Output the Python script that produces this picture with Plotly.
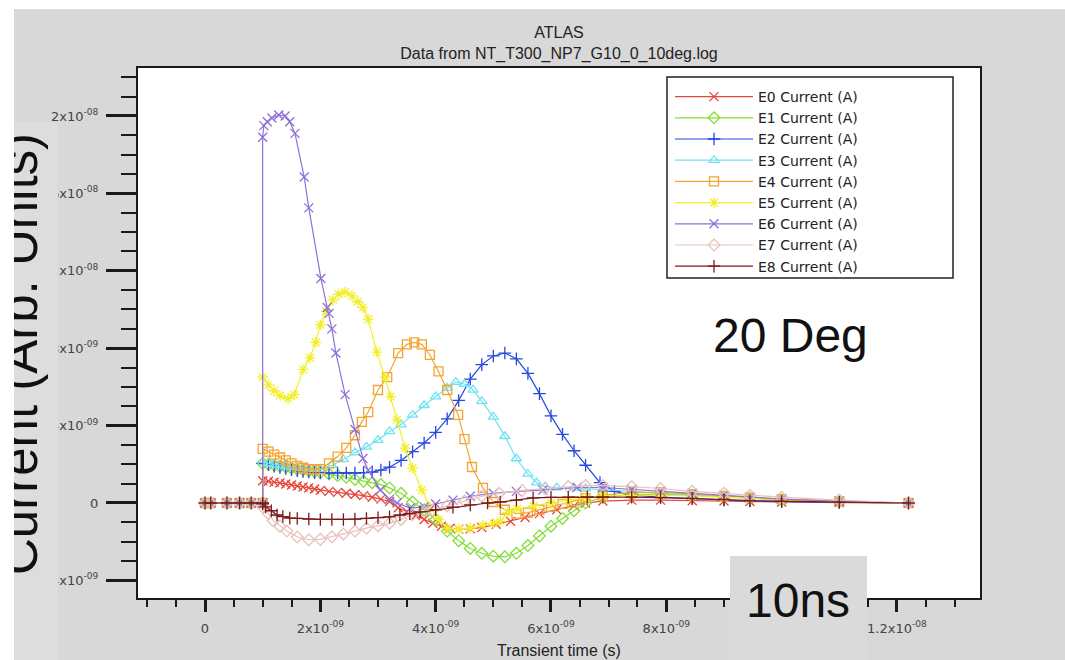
import plotly.graph_objects as go

# ---------------- data (time in ns, current in nA) ----------------
series_names = ["E0 Current (A)", "E1 Current (A)", "E2 Current (A)", "E3 Current (A)",
                "E4 Current (A)", "E5 Current (A)", "E6 Current (A)", "E7 Current (A)",
                "E8 Current (A)"]

e0_t = [0.0, 0.1, 0.38, 0.6, 0.8, 1.0,
        1.0, 1.1, 1.2, 1.3, 1.4, 1.5, 1.6, 1.7, 1.8, 1.9, 2.0, 2.15, 2.3, 2.45, 2.6, 2.75, 2.9,
        3.05, 3.2, 3.35, 3.5, 3.65, 3.8, 3.95, 4.1, 4.25, 4.4, 4.6, 4.8, 5.05, 5.3, 5.55, 5.8,
        6.1, 6.4, 6.6, 6.9, 7.4, 7.9, 8.45, 9.0, 9.45, 10.0, 11.0, 12.2]
e0_y = [0, 0, 0, 0, 0, 0,
        1.15, 1.12, 1.08, 1.03, 0.98, 0.93, 0.88, 0.83, 0.78, 0.72, 0.65, 0.6, 0.55, 0.5, 0.44,
        0.38, 0.3, 0.2, 0.08, -0.25, -0.45, -0.65, -0.85, -1.05, -1.2, -1.3, -1.35, -1.33, -1.27,
        -1.1, -0.95, -0.75, -0.55, -0.35, -0.15, 0.0, 0.1, 0.15, 0.15, 0.12, 0.1, 0.08, 0.05,
        0.02, 0.0]

e1_t = [0.0, 0.1, 0.38, 0.6, 0.8, 1.0,
        1.0, 1.1, 1.2, 1.3, 1.4, 1.5, 1.6, 1.7, 1.8, 1.9, 2.0, 2.15, 2.3, 2.45, 2.6, 2.75, 2.9,
        3.05, 3.2, 3.4, 3.6, 3.8, 4.0, 4.2, 4.4, 4.6, 4.8, 5.0, 5.2, 5.4, 5.6, 5.8, 6.0, 6.2,
        6.4, 6.6, 6.9, 7.4, 7.9, 8.45, 9.0, 9.45, 10.0, 11.0, 12.2]
e1_y = [0, 0, 0, 0, 0, 0,
        2.05, 2.0, 1.95, 1.9, 1.85, 1.8, 1.75, 1.7, 1.66, 1.62, 1.58, 1.5, 1.42, 1.33, 1.22,
        1.12, 1.05, 0.95, 0.78, 0.5, 0.05, -0.35, -0.85, -1.45, -1.95, -2.35, -2.6, -2.75,
        -2.78, -2.6, -2.2, -1.7, -1.2, -0.8, -0.4, 0.0, 0.3, 0.45, 0.45, 0.4, 0.32, 0.25, 0.15,
        0.06, 0.0]

e2_t = [0.0, 0.1, 0.38, 0.6, 0.8, 1.0,
        1.0, 1.1, 1.2, 1.3, 1.4, 1.5, 1.6, 1.7, 1.8, 1.9, 2.0, 2.15, 2.3, 2.45, 2.6, 2.75, 2.9,
        3.05, 3.2, 3.4, 3.6, 3.8, 4.0, 4.2, 4.4, 4.6, 4.8, 5.0, 5.2, 5.4, 5.6, 5.8, 6.0, 6.2,
        6.4, 6.6, 6.85, 7.1, 7.4, 7.9, 8.45, 9.0, 9.45, 10.0, 11.0, 12.2]
e2_y = [0, 0, 0, 0, 0, 0,
        2.05, 1.98, 1.9, 1.84, 1.78, 1.72, 1.67, 1.63, 1.6, 1.57, 1.55, 1.55, 1.55, 1.55, 1.55,
        1.57, 1.6, 1.7, 1.85, 2.2, 2.65, 3.1, 3.65, 4.35, 5.3, 6.4, 7.15, 7.6, 7.75, 7.45, 6.7,
        5.65, 4.5, 3.55, 2.7, 1.95, 1.05, 0.6, 0.4, 0.3, 0.22, 0.15, 0.1, 0.07, 0.03, 0.0]

e3_t = [0.0, 0.1, 0.38, 0.6, 0.8, 1.0,
        1.0, 1.1, 1.2, 1.3, 1.4, 1.5, 1.6, 1.7, 1.8, 1.9, 2.0, 2.2, 2.4, 2.6, 2.8, 3.0, 3.2,
        3.4, 3.6, 3.8, 4.0, 4.2, 4.35, 4.5, 4.65, 4.8, 5.0, 5.2, 5.4, 5.6, 5.75, 5.9, 6.1, 6.4,
        6.6, 6.9, 7.4, 7.9, 8.45, 9.0, 9.45, 10.0, 11.0, 12.2]
e3_y = [0, 0, 0, 0, 0, 0,
        2.1, 2.05, 2.0, 1.95, 1.9, 1.86, 1.82, 1.79, 1.76, 1.75, 1.75, 1.95, 2.25, 2.6, 2.9,
        3.25, 3.7, 4.05, 4.55, 5.05, 5.5, 5.95, 6.25, 6.15, 5.85, 5.25, 4.45, 3.45, 2.3, 1.5,
        1.05, 0.85, 0.8, 0.78, 0.75, 0.7, 0.6, 0.5, 0.4, 0.32, 0.25, 0.17, 0.08, 0.0]

e4_t = [0.0, 0.1, 0.38, 0.6, 0.8, 1.0,
        1.0, 1.1, 1.2, 1.3, 1.4, 1.5, 1.6, 1.7, 1.8, 1.9, 2.0, 2.15, 2.3, 2.45, 2.6, 2.72, 2.83,
        3.0, 3.16, 3.35, 3.5, 3.63, 3.76, 3.9, 4.05, 4.2, 4.39, 4.5, 4.63, 4.82, 5.0, 5.2, 5.4,
        5.6, 5.8, 6.0, 6.2, 6.4, 6.6, 6.9, 7.4, 7.9, 8.45, 9.0, 9.45, 10.0, 11.0, 12.2]
e4_y = [0, 0, 0, 0, 0, 0,
        2.8, 2.65, 2.5, 2.35, 2.2, 2.05, 1.92, 1.82, 1.75, 1.72, 1.75, 2.05, 2.4, 2.85, 3.5,
        4.19, 4.7, 5.84, 6.5, 7.75, 8.2, 8.3, 8.2, 7.65, 6.8, 5.84, 4.55, 3.3, 1.86, 0.78, 0.05,
        -0.35, -0.55, -0.5, -0.35, -0.2, -0.05, 0.1, 0.25, 0.4, 0.55, 0.55, 0.45, 0.35, 0.28,
        0.2, 0.1, 0.0]

e5_t = [0.0, 0.1, 0.38, 0.6, 0.8, 1.0,
        1.0, 1.1, 1.2, 1.3, 1.44, 1.55, 1.7, 1.82, 1.92, 2.0, 2.1, 2.22, 2.32, 2.43, 2.55, 2.65,
        2.74, 2.83, 2.98, 3.12, 3.22, 3.33, 3.47, 3.6, 3.76, 3.9, 4.05, 4.2, 4.4, 4.6, 4.82,
        5.0, 5.12, 5.25, 5.41, 5.7, 6.0, 6.3, 6.6, 6.9, 7.4, 7.9, 8.45, 9.0, 9.45, 10.0, 11.0,
        12.2]
e5_y = [0, 0, 0, 0, 0, 0,
        6.5, 6.1, 5.8, 5.55, 5.4, 5.6, 6.9, 7.5, 8.3, 9.2, 9.9, 10.5, 10.8, 10.9, 10.7, 10.4,
        10.1, 9.5, 7.8, 6.5, 5.5, 4.3, 2.84, 1.8, 0.67, -0.2, -0.85, -1.3, -1.35, -1.3, -1.15,
        -1.05, -0.95, -0.5, -0.3, -0.15, 0.0, 0.15, 0.25, 0.35, 0.4, 0.4, 0.35, 0.3, 0.25, 0.15,
        0.06, 0.0]

e6_t = [0.0, 0.1, 0.38, 0.6, 0.8, 1.0,
        1.0, 1.02, 1.08, 1.16, 1.28, 1.39, 1.47, 1.56, 1.72, 1.80, 2.01, 2.12, 2.15, 2.2, 2.27,
        2.43, 2.6, 2.74, 2.83, 3.04, 3.2, 3.33, 3.56, 3.8, 4.0, 4.3, 4.6, 5.0, 5.4, 5.86, 6.45,
        6.9, 7.4, 7.9, 8.45, 9.0, 9.45, 10.0, 11.0, 12.2]
e6_y = [0, 0, 0, 0, 0, 0,
        18.9, 19.5, 19.7, 19.9, 20.05, 20.0, 19.7, 19.1, 16.85, 15.25, 11.6, 10.1, 9.8, 9.0,
        7.75, 5.6, 3.8, 2.3, 1.7, 0.67, 0.2, 0.0, -0.26, -0.2, -0.05, 0.15, 0.35, 0.5, 0.6,
        0.67, 0.8, 0.8, 0.7, 0.6, 0.5, 0.4, 0.3, 0.2, 0.08, 0.0]

e7_t = [0.0, 0.1, 0.38, 0.6, 0.8, 1.0,
        1.0, 1.1, 1.18, 1.3, 1.42, 1.6, 1.8, 2.0, 2.2, 2.4, 2.6, 2.8, 3.0, 3.2, 3.4, 3.6, 3.8,
        3.95, 4.2, 4.5, 4.8, 5.1, 5.5, 5.9, 6.3, 6.6, 6.9, 7.4, 7.9, 8.45, 9.0, 9.45, 10.0,
        11.0, 12.2]
e7_y = [0, 0, 0, 0, 0, 0,
        -0.2, -0.55, -0.9, -1.2, -1.45, -1.76, -1.9, -1.88, -1.75, -1.6, -1.45, -1.3, -1.18,
        -1.05, -0.85, -0.6, -0.45, -0.36, -0.15, 0.1, 0.35, 0.5, 0.65, 0.75, 0.85, 0.9, 0.9,
        0.85, 0.75, 0.6, 0.5, 0.4, 0.3, 0.15, 0.0]

e8_t = [0.0, 0.1, 0.38, 0.6, 0.8, 1.0,
        1.0, 1.05, 1.15, 1.25, 1.35, 1.47, 1.6, 1.8, 2.0, 2.2, 2.4, 2.6, 2.8, 3.0, 3.2, 3.38,
        3.55, 3.73, 4.0, 4.3, 4.6, 4.9, 5.12, 5.4, 5.69, 6.0, 6.3, 6.63, 6.9, 7.4, 7.9, 8.45,
        9.0, 9.45, 10.0, 11.0, 12.2]
e8_y = [0, 0, 0, 0, 0, 0,
        -0.05, -0.2, -0.4, -0.62, -0.7, -0.78, -0.8, -0.83, -0.85, -0.85, -0.85, -0.83, -0.8,
        -0.76, -0.72, -0.62, -0.55, -0.46, -0.35, -0.22, -0.1, 0.0, 0.05, 0.15, 0.26, 0.29,
        0.3, 0.31, 0.31, 0.3, 0.28, 0.24, 0.18, 0.12, 0.08, 0.04, 0.0]

x_tick_vals = [0, 2e-9, 4e-9, 6e-9, 8e-9, 1e-8, 1.2e-8]
# the 1x10^-08 label is hidden under the "10ns" box in the reference
x_tick_text = ["0", "2x10<sup>-09</sup>", "4x10<sup>-09</sup>", "6x10<sup>-09</sup>",
               "8x10<sup>-09</sup>", "", "1.2x10<sup>-08</sup>"]
y_tick_vals = [-4e-9, 0, 4e-9, 8e-9, 1.2e-8, 1.6e-8, 2e-8]
y_tick_text = ["-4x10<sup>-09</sup>", "0", "4x10<sup>-09</sup>", "8x10<sup>-09</sup>",
               "1.2x10<sup>-08</sup>", "1.6x10<sup>-08</sup>", "2x10<sup>-08</sup>"]

# ---------------- styling ----------------
colors = ["#e8443a", "#86dd3a", "#2447e0", "#6fe3f2", "#f2a531", "#f2ee2a", "#8f6fd8",
          "#e6c2ba", "#7b1a1a"]
symbols = ["x-thin-open", "diamond-open", "cross-thin-open", "triangle-up-open", "square-open",
           "asterisk-open", "x-thin-open", "diamond-open", "cross-thin-open"]

W, H = 1065, 660
ML, MR, MT, MB = 138, 85, 68, 62
PW = W - ML - MR
PH = H - MT - MB


def px(x):
    return (x - ML) / PW


def py(y):
    return (H - MB - y) / PH


ts = [e0_t, e1_t, e2_t, e3_t, e4_t, e5_t, e6_t, e7_t, e8_t]
ys = [e0_y, e1_y, e2_y, e3_y, e4_y, e5_y, e6_y, e7_y, e8_y]

fig = go.Figure()
for name, t, y, c, s in zip(series_names, ts, ys, colors, symbols):
    assert len(t) == len(y), name
    fig.add_trace(go.Scatter(
        x=[v * 1e-9 for v in t], y=[v * 1e-9 for v in y], name=name,
        mode="lines+markers",
        line=dict(color=c, width=1.2),
        marker=dict(symbol=s, size=9, color=c, line=dict(color=c, width=1.3)),
    ))

axis_common = dict(
    showline=True, linecolor="#1a1a1a", linewidth=2, mirror=True,
    ticks="outside", tickwidth=2.5, tickcolor="#1a1a1a", automargin=False,
    tickmode="array", showgrid=False, zeroline=False,
    tickfont=dict(family="DejaVu Sans", size=13, color="#444"),
)

fig.update_layout(
    width=W, height=H, autosize=False,
    margin=dict(l=ML, r=MR, t=MT, b=MB),
    paper_bgcolor="#d8d8d8", plot_bgcolor="white",
    title=dict(text="ATLAS<br>Data from NT_T300_NP7_G10_0_10deg.log",
               x=0.5, xref="paper", xanchor="center",
               y=1 - 38 / H, yref="container", yanchor="middle",
               font=dict(family="Liberation Sans", size=16, color="#222")),
    xaxis=dict(axis_common, range=[-1.162e-9, 1.344e-8], ticklen=12, ticklabelstandoff=5,
               tickvals=x_tick_vals, ticktext=x_tick_text,
               minor=dict(ticks="outside", ticklen=7, tickwidth=1.5, tickcolor="#1a1a1a",
                          tickmode="linear", tick0=0, dtick=5e-10, showgrid=False),
               title=dict(text="Transient time (s)", standoff=10,
                          font=dict(family="Liberation Sans", size=16, color="#222"))),
    yaxis=dict(axis_common, range=[-4.91e-9, 2.248e-8], ticklen=30, ticklabelstandoff=5,
               tickvals=y_tick_vals, ticktext=y_tick_text,
               minor=dict(ticks="outside", ticklen=15, tickwidth=1.5, tickcolor="#1a1a1a",
                          tickmode="linear", tick0=0, dtick=1e-9, showgrid=False)),
    showlegend=True,
    legend=dict(x=px(670), y=py(81), xanchor="left", yanchor="top",
                bgcolor="rgba(0,0,0,0)", borderwidth=0, itemwidth=78,
                font=dict(family="DejaVu Sans", size=14, color="#222")),
)

shapes = [
    # white strip along the top edge
    dict(type="rect", xref="paper", yref="paper", x0=px(0), x1=px(W), y0=py(9), y1=py(0),
         fillcolor="white", line=dict(width=0), layer="above"),
    # light box behind the large y title
    dict(type="rect", xref="paper", yref="paper", x0=px(14), x1=px(58), y0=py(H), y1=py(122),
         fillcolor="#dddddd", line=dict(width=0), layer="above"),
    # legend box
    dict(type="rect", xref="paper", yref="paper", x0=px(667), x1=px(953), y0=py(278),
         y1=py(77), fillcolor="white", line=dict(color="#222", width=1.5), layer="above"),
    # "10ns" label box
    dict(type="rect", xref="paper", yref="paper", x0=px(730), x1=px(867), y0=py(H),
         y1=py(556), fillcolor="#dadada", line=dict(width=0), layer="above"),
]
fig.update_layout(shapes=shapes)

annotations = [
    dict(text="Current (Arb. Units)", textangle=-90, xref="paper", yref="paper",
         x=px(19), y=py(354), xanchor="center", yanchor="middle", showarrow=False,
         font=dict(family="Liberation Sans", size=51, color="#111")),
    dict(text=" ", xref="paper", yref="paper", x=px(0), y=py(H / 2), xanchor="left",
         yanchor="middle", showarrow=False, width=14, height=H + 10, bgcolor="white",
         borderpad=0, borderwidth=0),
    dict(text="20 Deg", xref="paper", yref="paper", x=px(790), y=py(335),
         xanchor="center", yanchor="middle", showarrow=False,
         font=dict(family="Liberation Sans", size=48, color="#111")),
    dict(text="10ns", xref="paper", yref="paper", x=px(798), y=py(600),
         xanchor="center", yanchor="middle", showarrow=False,
         font=dict(family="Liberation Sans", size=48, color="#111")),
]
fig.update_layout(annotations=annotations)

fig.write_html("out.html",
               config={"displayModeBar": False},
               post_script="document.body.style.margin='0';"
                           "document.body.style.overflow='hidden';"
                           "document.documentElement.style.overflow='hidden';"
                           "document.documentElement.style.background='#d8d8d8';")
